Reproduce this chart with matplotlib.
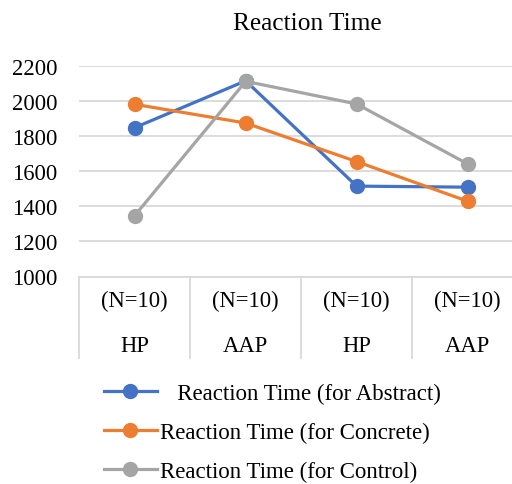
import matplotlib
matplotlib.use("Agg")
import matplotlib.pyplot as plt

plt.rcParams['font.family'] = ['Liberation Serif', 'DejaVu Serif']

groups = ["HP", "AAP", "HP", "AAP"]
n_labels = ["(N=10)", "(N=10)", "(N=10)", "(N=10)"]
abstract = [1850, 2117, 1516, 1510]
concrete = [1983, 1876, 1656, 1430]
control = [1348, 2114, 1985, 1643]
series_names = ["   Reaction Time (for Abstract)", "Reaction Time (for Concrete)", "Reaction Time (for Control)"]
colors = ["#4472C4", "#ED7D31", "#A5A5A5"]
yticks = [1000, 1200, 1400, 1600, 1800, 2000, 2200]

W, H = 512, 485
fig = plt.figure(figsize=(W/100, H/100), dpi=100)
left, right = 79.3/W, 523/W
top, bottom = 1 - 67.3/H, 1 - 277.5/H
ax = fig.add_axes([left, bottom, right-left, top-bottom])

x = list(range(len(groups)))
for vals, c, name in zip([abstract, concrete, control], colors, series_names):
    ax.plot(x, vals, color=c, lw=2.3, marker='o', markersize=10, label=name, zorder=3)

ax.set_xlim(-0.5, len(groups)-0.5)
ax.set_ylim(1000, 2200)
ax.set_yticks(yticks)
ax.set_yticklabels([str(v) for v in yticks], fontsize=16.3)
ax.tick_params(axis='y', length=0, pad=16)
ax.set_xticks([])
for s in ax.spines.values():
    s.set_visible(False)
ax.grid(axis='y', color='#d9d9d9', lw=1.3)
ax.set_axisbelow(True)

# category separators
ax_h_px = 277.5 - 67.3
ymin_sep = -(359 - 277.5)/ax_h_px
for b in [i - 0.5 for i in range(len(groups)+1)]:
    ax.axvline(b, ymin=ymin_sep, ymax=0, color='#d9d9d9', lw=1.3, clip_on=False)
ax.axhline(1000, color='#d9d9d9', lw=1.3, clip_on=False)

y1 = -(301.5 - 277.5)/ax_h_px
y2 = -(346.5 - 277.5)/ax_h_px
trans = ax.get_xaxis_transform()
for i, (n, g) in enumerate(zip(n_labels, groups)):
    ax.text(i, y1, n, transform=trans, ha='center', va='center', fontsize=16.3)
    ax.text(i, y2, g, transform=trans, ha='center', va='center', fontsize=16.3)

fig.text(307/W, 1 - 24/H, "Reaction Time", ha='center', va='center', fontsize=18.3)

fig.legend(loc='upper left', bbox_to_anchor=(104/W, 1 - 384/H), frameon=False,
           fontsize=16.5, handlelength=2.3, handletextpad=0.15, labelspacing=0.78,
           borderpad=0, borderaxespad=0)

fig.savefig("out.png", dpi=100)
